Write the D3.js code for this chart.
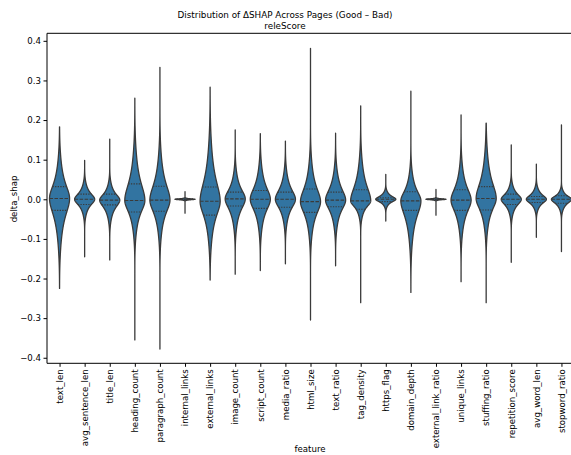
<!DOCTYPE html>
<html lang="en">
  <head>
    <meta charset="UTF-8" />
    <title>delta shap violins</title>
    <script src="https://d3js.org/d3.v7.min.js"></script>
  </head>
  <style>
    html,
    body {
      margin: 0;
      padding: 0;
      background: #fff;
    }
    text {
      font-family: "DejaVu Sans", sans-serif;
    }
  </style>
  <body>
    <script>
      // features, in plot order
      var features = ["text_len", "avg_sentence_len", "title_len", "heading_count", "paragraph_count",
        "internal_links", "external_links", "image_count", "script_count", "media_ratio", "html_size",
        "text_ratio", "tag_density", "https_flag", "domain_depth", "external_link_ratio", "unique_links",
        "stuffing_ratio", "repetition_score", "avg_word_len", "stopword_ratio"];

      // extremes of each violin (ends of the thin tails)
      var maxVals = [0.183, 0.098, 0.152, 0.255, 0.333, 0.019, 0.283, 0.175, 0.166, 0.147, 0.381,
        0.167, 0.236, 0.063, 0.273, 0.025, 0.213, 0.192, 0.137, 0.089, 0.188];
      var minVals = [-0.225, -0.145, -0.153, -0.355, -0.378, -0.035, -0.204, -0.189, -0.18, -0.163, -0.305,
        -0.168, -0.261, -0.055, -0.235, -0.04, -0.208, -0.261, -0.159, -0.096, -0.132];

      // quartiles
      var q3Vals = [0.032, 0.013, 0.013, 0.039, 0.033, 0.0005, 0.031, 0.018, 0.022, 0.018, 0.026,
        0.018, 0.024, 0.004, 0.019, 0.0005, 0.024, 0.032, 0.013, 0.007, 0.009];
      var medVals = [0.002, 0.0, -0.002, -0.003, -0.002, 0.0, -0.005, 0.001, 0.0, 0.0, -0.006,
        -0.002, -0.004, 0.0, -0.004, 0.0, -0.002, 0.002, 0.0, 0.0, 0.0];
      var q1Vals = [-0.028, -0.013, -0.014, -0.032, -0.03, -0.0005, -0.04, -0.017, -0.023, -0.02, -0.033,
        -0.019, -0.025, -0.006, -0.028, -0.0005, -0.028, -0.027, -0.013, -0.008, -0.01];

      // where the wide body of the violin ends above / below
      var bodyTop = [0.11, 0.044, 0.044, 0.13, 0.12, 0.003, 0.15, 0.074, 0.091, 0.075, 0.1,
        0.083, 0.108, 0.022, 0.074, 0.003, 0.091, 0.124, 0.04, 0.032, 0.025];
      var bodyBottom = [-0.125, -0.044, -0.057, -0.094, -0.1, -0.003, -0.12, -0.078, -0.086, -0.069, -0.1,
        -0.078, -0.05, -0.02, -0.12, -0.003, -0.094, -0.086, -0.044, -0.031, -0.031];

      var yTicks = [0.4, 0.3, 0.2, 0.1, 0.0, -0.1, -0.2, -0.3, -0.4];

      var W = 571, H = 455;
      var plotL = 47, plotR = 574, plotT = 33.3, plotB = 363.3;
      var fill = "#3274a1", edge = "#3a3a3a";
      var fs = 8.6;

      var svg = d3.select("body").append("svg").attr("width", W).attr("height", H);

      var x = d3.scaleLinear().domain([-0.5, features.length - 0.5]).range([plotL, plotR]);
      var y = d3.scaleLinear().domain([-0.414, 0.419]).range([plotB, plotT]);
      var halfW = 0.4 * (x(1) - x(0));

      var data = features.map(function (f, i) {
        return {
          name: f, i: i, max: maxVals[i], min: minVals[i],
          q1: q1Vals[i], med: medVals[i], q3: q3Vals[i],
          up: bodyTop[i] - medVals[i], down: medVals[i] - bodyBottom[i]
        };
      });

      // peaked width profile, with the far tails damped down to a line
      var A = 0.43, C = 1.3;
      function width(d, v) {
        var s = v >= d.med ? d.up : d.down;
        var u = Math.abs(v - d.med) / s;
        var t = u / A;
        return halfW / (1 + t * t) * Math.exp(-Math.pow(u / C, 4));
      }

      var g = svg.append("g");

      data.forEach(function (d) {
        var n = 700;
        var vals = d3.range(n + 1).map(function (k) { return d.min + (d.max - d.min) * k / n; });
        vals.push(d.med);
        vals.sort(d3.ascending);
        var cx = x(d.i);
        var pts = vals.map(function (v) { return [cx + width(d, v), y(v)]; })
          .concat(vals.slice().reverse().map(function (v) { return [cx - width(d, v), y(v)]; }));
        g.append("path")
          .attr("d", d3.line()(pts) + "Z")
          .attr("fill", fill)
          .attr("stroke", edge)
          .attr("stroke-width", 1.3)
          .attr("stroke-linejoin", "round");

        [["q1", "1.3,1.3"], ["med", "3.5,1.5"], ["q3", "1.3,1.3"]].forEach(function (q) {
          var v = d[q[0]], w = width(d, v);
          g.append("line")
            .attr("x1", cx - w).attr("x2", cx + w)
            .attr("y1", y(v)).attr("y2", y(v))
            .attr("stroke", edge)
            .attr("stroke-width", 1.1)
            .attr("stroke-dasharray", q[1]);
        });
      });

      // spines
      svg.append("line").attr("x1", plotL).attr("x2", plotL).attr("y1", plotT).attr("y2", plotB)
        .attr("stroke", "#000").attr("stroke-width", 1);
      svg.append("line").attr("x1", plotL).attr("x2", plotR).attr("y1", plotT).attr("y2", plotT)
        .attr("stroke", "#000").attr("stroke-width", 1);
      svg.append("line").attr("x1", plotL).attr("x2", plotR).attr("y1", plotB).attr("y2", plotB)
        .attr("stroke", "#000").attr("stroke-width", 1);

      // y axis
      var yAxis = d3.axisLeft(y).tickValues(yTicks).tickSize(3.5).tickPadding(2.5)
        .tickFormat(function (d) { return d3.format(".1f")(d).replace("-", "\u2212"); });
      svg.append("g").attr("transform", "translate(" + plotL + ",0)").call(yAxis)
        .call(function (s) { s.select(".domain").remove(); })
        .call(function (s) {
          s.selectAll("text").attr("font-size", fs).attr("fill", "#000").style("font-family", "DejaVu Sans");
          s.selectAll("line").attr("stroke", "#000");
        });

      // x axis
      var xAxis = d3.axisBottom(x).tickValues(d3.range(features.length)).tickSize(3.5).tickPadding(2.5)
        .tickFormat(function (i) { return features[i]; });
      var xg = svg.append("g").attr("transform", "translate(0," + plotB + ")").call(xAxis);
      xg.select(".domain").remove();
      xg.selectAll("line").attr("stroke", "#000");
      xg.selectAll("text")
        .attr("font-size", fs).attr("fill", "#000").style("font-family", "DejaVu Sans")
        .attr("transform", "rotate(-90)")
        .attr("text-anchor", "end")
        .attr("x", -6).attr("y", 0).attr("dy", "0.32em");

      // labels
      svg.append("text").attr("x", 285).attr("y", 18).attr("text-anchor", "middle")
        .attr("font-size", 8.8).text("Distribution of \u0394SHAP Across Pages (Good \u2013 Bad)");
      svg.append("text").attr("x", 285).attr("y", 28.5).attr("text-anchor", "middle")
        .attr("font-size", 8.8).text("releScore");
      svg.append("text").attr("x", 310).attr("y", 452).attr("text-anchor", "middle")
        .attr("font-size", fs).text("feature");
      svg.append("text").attr("transform", "translate(17,199) rotate(-90)").attr("text-anchor", "middle")
        .attr("font-size", fs).text("delta_shap");
    </script>
  </body>
</html>
